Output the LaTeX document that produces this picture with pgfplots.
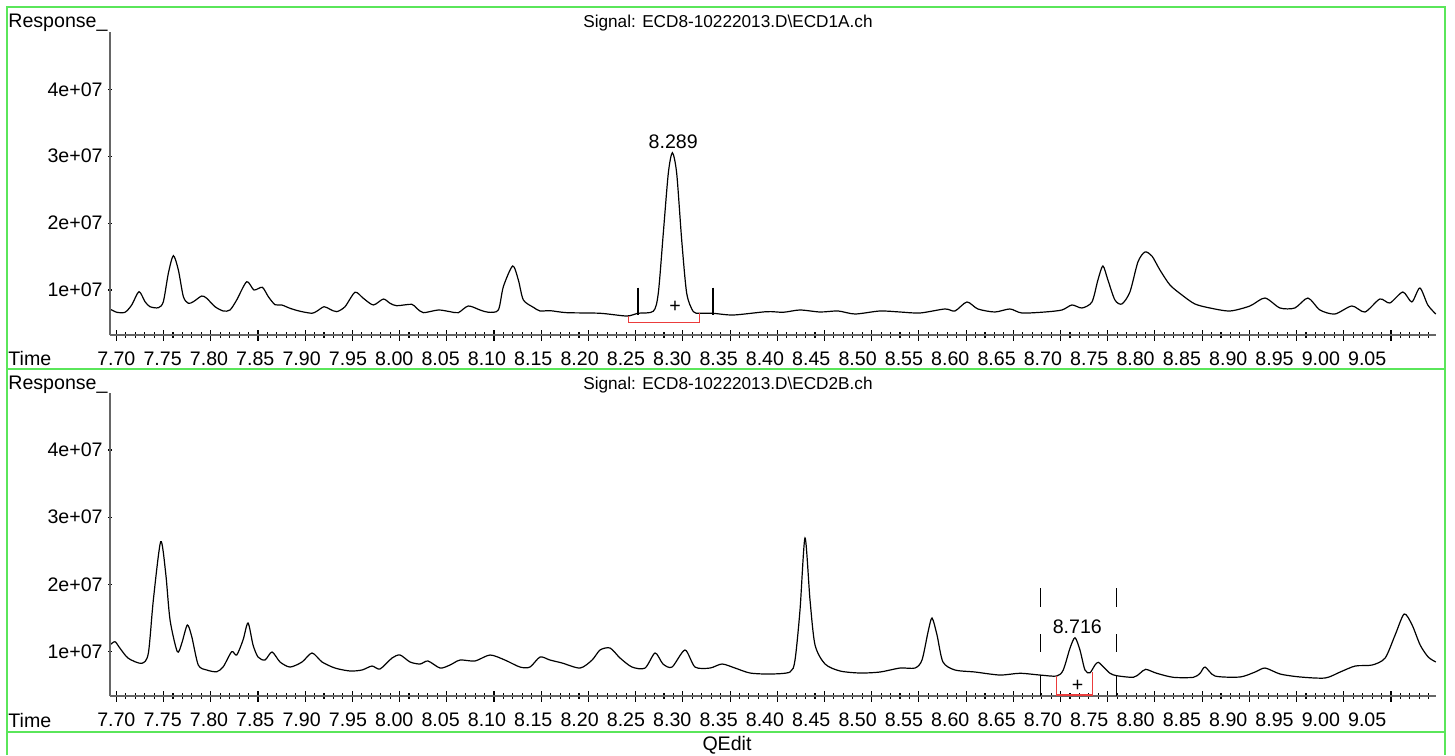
\documentclass[border=0pt]{standalone}
\usepackage{fontspec}
\setmainfont{Liberation Sans}
\usepackage{pgfplots}
\pgfplotsset{compat=1.18}
\definecolor{framegreen}{RGB}{90,230,90}
\definecolor{intred}{RGB}{235,60,60}
\newcommand{\fs}{\fontsize{9.8pt}{11.8pt}\selectfont}
\newcommand{\ts}{\fontsize{8.6pt}{10.4pt}\selectfont}

\pgfplotstableread{
x y
7.6933 7.16e6
7.7004 6.67e6
7.7092 6.67e6
7.7163 7.76e6
7.7240 9.75e6
7.7304 8.25e6
7.7357 7.50e6
7.7445 7.35e6
7.7498 8.25e6
7.7551 12.50e6
7.7604 15.13e6
7.7657 12.99e6
7.7710 9.00e6
7.7763 8.01e6
7.7816 8.25e6
7.7904 9.10e6
7.7957 8.76e6
7.8045 7.50e6
7.8133 6.86e6
7.8204 7.01e6
7.8275 8.51e6
7.8381 11.24e6
7.8458 10.00e6
7.8546 10.40e6
7.8610 9.00e6
7.8681 7.80e6
7.8752 7.76e6
7.8840 7.26e6
7.8946 6.82e6
7.9070 6.52e6
7.9122 6.82e6
7.9200 7.50e6
7.9263 7.12e6
7.9334 6.76e6
7.9422 7.50e6
7.9528 9.66e6
7.9616 8.76e6
7.9722 7.76e6
7.9828 8.65e6
7.9899 8.01e6
7.9970 7.65e6
8.0129 7.86e6
8.0182 7.26e6
8.0252 6.61e6
8.0410 7.01e6
8.0534 6.76e6
8.0622 6.61e6
8.0728 7.61e6
8.0852 7.01e6
8.0940 6.67e6
8.1046 7.01e6
8.1099 10.49e6
8.1198 13.59e6
8.1258 11.49e6
8.1311 8.51e6
8.1417 7.41e6
8.1488 6.86e6
8.1593 6.91e6
8.1770 6.61e6
8.2123 6.52e6
8.2406 6.11e6
8.2522 6.52e6
8.2687 6.82e6
8.2740 9.51e6
8.2793 18.48e6
8.2846 27.44e6
8.2889 30.52e6
8.2935 27.44e6
8.2988 17.47e6
8.3041 9.51e6
8.3111 6.76e6
8.3182 6.52e6
8.3317 6.52e6
8.3535 6.26e6
8.3889 6.76e6
8.4064 6.67e6
8.4241 7.01e6
8.4453 6.71e6
8.4644 6.86e6
8.4824 6.41e6
8.5088 6.86e6
8.5300 6.71e6
8.5512 6.56e6
8.5776 7.16e6
8.5882 6.86e6
8.6009 8.21e6
8.6125 7.16e6
8.6305 6.71e6
8.6464 7.16e6
8.6591 6.56e6
8.6835 6.71e6
8.7015 7.01e6
8.7121 7.76e6
8.7227 7.31e6
8.7333 8.21e6
8.7396 11.49e6
8.7449 13.59e6
8.7502 11.49e6
8.7576 8.51e6
8.7650 7.91e6
8.7735 9.70e6
8.7820 14.19e6
8.7894 15.68e6
8.7968 15.08e6
8.8053 12.99e6
8.8159 10.75e6
8.8286 9.25e6
8.8423 7.91e6
8.8582 7.31e6
8.8794 6.86e6
8.9006 7.61e6
8.9165 8.80e6
8.9324 7.31e6
8.9482 7.31e6
8.9620 8.80e6
8.9747 7.01e6
8.9906 6.41e6
9.0086 7.61e6
9.0224 6.71e6
9.0382 8.65e6
9.0488 8.06e6
9.0626 9.70e6
9.0721 8.21e6
9.0806 10.30e6
9.0890 7.76e6
9.0975 6.41e6
}\topsignal

\pgfplotstableread{
x y
7.6933 11.00e6
7.6986 11.49e6
7.7039 10.51e6
7.7127 9.02e6
7.7269 8.27e6
7.7339 9.76e6
7.7392 17.69e6
7.7470 26.37e6
7.7523 21.67e6
7.7569 14.72e6
7.7646 10.00e6
7.7693 11.25e6
7.7752 13.97e6
7.7799 12.23e6
7.7868 8.02e6
7.7957 7.28e6
7.8063 7.02e6
7.8133 7.77e6
7.8222 10.00e6
7.8275 9.51e6
7.8342 11.74e6
7.8395 14.27e6
7.8448 11.00e6
7.8501 9.21e6
7.8575 8.76e6
7.8649 9.96e6
7.8734 8.47e6
7.8840 7.72e6
7.8967 8.47e6
7.9073 9.81e6
7.9179 8.47e6
7.9316 7.57e6
7.9475 7.13e6
7.9602 7.28e6
7.9708 7.87e6
7.9793 7.43e6
7.9920 9.06e6
8.0005 9.51e6
8.0111 8.47e6
8.0217 8.17e6
8.0301 8.62e6
8.0429 7.57e6
8.0534 8.02e6
8.0640 8.76e6
8.0799 8.62e6
8.0958 9.51e6
8.1116 8.76e6
8.1275 7.72e6
8.1381 7.72e6
8.1488 9.21e6
8.1593 8.76e6
8.1721 8.32e6
8.1911 7.57e6
8.2039 8.76e6
8.2123 10.25e6
8.2229 10.55e6
8.2335 9.06e6
8.2462 7.72e6
8.2600 7.57e6
8.2706 9.81e6
8.2790 8.17e6
8.2886 7.72e6
8.3023 10.25e6
8.3129 7.72e6
8.3288 7.57e6
8.3415 8.17e6
8.3553 7.57e6
8.3712 6.83e6
8.3924 6.68e6
8.4135 6.98e6
8.4188 8.76e6
8.4241 16.20e6
8.4294 26.92e6
8.4347 17.69e6
8.4400 11.00e6
8.4506 8.17e6
8.4665 7.13e6
8.4877 6.83e6
8.5088 6.98e6
8.5300 7.57e6
8.5459 7.57e6
8.5533 8.76e6
8.5597 12.93e6
8.5639 15.01e6
8.5692 12.49e6
8.5755 8.47e6
8.5882 7.28e6
8.6094 6.98e6
8.6358 6.53e6
8.6570 6.79e6
8.6782 6.53e6
8.6960 6.38e6
8.7029 7.28e6
8.7100 10.51e6
8.7153 12.08e6
8.7206 10.25e6
8.7259 7.28e6
8.7312 6.87e6
8.7365 8.02e6
8.7400 8.42e6
8.7453 7.77e6
8.7524 6.79e6
8.7595 6.43e6
8.7771 6.19e6
8.7842 6.79e6
8.7902 7.38e6
8.8019 6.79e6
8.8195 6.19e6
8.8407 6.19e6
8.8478 6.79e6
8.8531 7.72e6
8.8637 6.38e6
8.8902 6.24e6
8.9061 6.98e6
8.9167 7.57e6
8.9326 6.68e6
8.9538 6.24e6
8.9803 6.09e6
8.9962 6.98e6
9.0121 7.87e6
9.0301 8.02e6
9.0438 9.06e6
9.0544 12.49e6
9.0640 15.61e6
9.0724 13.97e6
9.0809 11.00e6
9.0894 9.21e6
9.0975 8.47e6
}\botsignal

\pgfplotsset{
  chrom/.style={
    scale only axis, width=663pt, height=151.5pt,
    xmin=7.6933, xmax=9.0977, ymin=3.27e6, ymax=4.857e7,
    tick style={black, line width=0.55pt},
    tick align=outside, scaled ticks=false, font=\fs,
    /pgf/number format/assume math mode=true,
  },
  xpart/.style={
    axis x line=bottom, axis y line=none, ytick=\empty,
    x axis line style={-, black!60, line width=0.6pt},
    xtick={7.70,7.75,7.80,7.85,7.90,7.95,8.00,8.05,8.10,8.15,8.20,8.25,8.30,8.35,8.40,8.45,8.50,8.55,8.60,8.65,8.70,8.75,8.80,8.85,8.90,8.95,9.00,9.05},
    xticklabels={7.70,7.75,7.80,7.85,7.90,7.95,8.00,8.05,8.10,8.15,8.20,8.25,8.30,8.35,8.40,8.45,8.50,8.55,8.60,8.65,8.70,8.75,8.80,8.85,8.90,8.95,9.00,9.05},
    minor xtick={7.71,7.72,...,9.095},
    major tick length=5.5pt, minor tick length=2.8pt,
    xticklabel style={font=\fs, anchor=base, inner sep=0pt, yshift=-12.6pt, xshift=-0.44*\ticknum pt},
  },
  ypart/.style={
    axis x line=none, axis y line=left, xtick=\empty,
    y axis line style={-, black!60, line width=0.6pt},
    ytick={1e7,2e7,3e7,4e7}, yticklabels={1e+07,2e+07,3e+07,4e+07},
    minor y tick num=4,
    major tick length=2pt, minor tick length=1pt,
    yticklabel style={font=\fs, anchor=east, inner sep=0pt, xshift=-2.5pt},
  },
}

\begin{document}
\begin{tikzpicture}
\path[use as bounding box] (0pt,0pt) rectangle (727.5pt,-377.5pt);
\begin{scope}[x=0.5pt,y=-0.5pt]
  \draw[framegreen, line width=0.8pt] (7,755) -- (7,7) -- (1445,7) -- (1445,755);
  \draw[framegreen, line width=0.8pt] (7,369) -- (1445,369);
  \draw[framegreen, line width=0.8pt] (7,732) -- (1445,732);
  \node[font=\fs, anchor=base west, inner sep=0pt] at (8,27) {Response\_};
  \node[font=\ts, anchor=base, inner sep=0pt] at (728,27) {Signal: ECD8-10222013.D\textbackslash ECD1A.ch};
  \node[font=\fs, anchor=base west, inner sep=0pt] at (8,365) {Time};
  \node[font=\fs, anchor=base west, inner sep=0pt] at (8,389) {Response\_};
  \node[font=\ts, anchor=base, inner sep=0pt] at (728,389) {Signal: ECD8-10222013.D\textbackslash ECD2B.ch};
  \node[font=\fs, anchor=base west, inner sep=0pt] at (8,727) {Time};
  \node[font=\fs, anchor=base, inner sep=0pt] at (727,750) {QEdit};
\end{scope}

% top panel
\begin{axis}[chrom, xpart, at={(55pt,-167.5pt)}, anchor=south west]
  \addplot[black, line width=0.6pt, smooth, tension=0.45] table {\topsignal};
  \draw[black, line width=0.9pt] (8.2522,10.34e6) -- (8.2522,6.26e6);
  \draw[black, line width=0.9pt] (8.3317,10.34e6) -- (8.3317,6.26e6);
  \draw[intred, line width=0.7pt] (8.2422,6.11e6) -- (8.2422,5.17e6) -- (8.3174,5.17e6) -- (8.3174,6.52e6);
  \node[font=\fs] at (8.2917,7.50e6) {+};
  \node[font=\fs] at (8.2898,32.17e6) {8.289};
\end{axis}
\begin{axis}[chrom, ypart, at={(55pt,-167.5pt)}, anchor=south west]
\end{axis}

% bottom panel
\begin{axis}[chrom, xpart, ymin=3.41e6, ymax=4.848e7, at={(55pt,-348pt)}, anchor=south west]
  \addplot[black, line width=0.6pt, smooth, tension=0.45] table {\botsignal};
  \draw[black, line width=0.7pt] (8.6790,19.43e6) -- (8.6790,16.70e6);
  \draw[black, line width=0.7pt] (8.6790,12.63e6) -- (8.6790,10.00e6);
  \draw[black, line width=0.7pt] (8.6790,6.53e6) -- (8.6790,3.41e6);
  \draw[black, line width=0.7pt] (8.7595,19.43e6) -- (8.7595,16.70e6);
  \draw[black, line width=0.7pt] (8.7595,12.63e6) -- (8.7595,10.00e6);
  \draw[black, line width=0.7pt] (8.7595,6.53e6) -- (8.7595,3.41e6);
  \draw[intred, line width=0.7pt] (8.6960,6.38e6) -- (8.6960,3.56e6) -- (8.7337,3.56e6) -- (8.7337,7.02e6);
  \node[font=\fs] at (8.7182,4.90e6) {+};
  \node[font=\fs] at (8.7178,13.72e6) {8.716};
\end{axis}
\begin{axis}[chrom, ypart, ymin=3.41e6, ymax=4.848e7, at={(55pt,-348pt)}, anchor=south west]
\end{axis}
\end{tikzpicture}
\end{document}
